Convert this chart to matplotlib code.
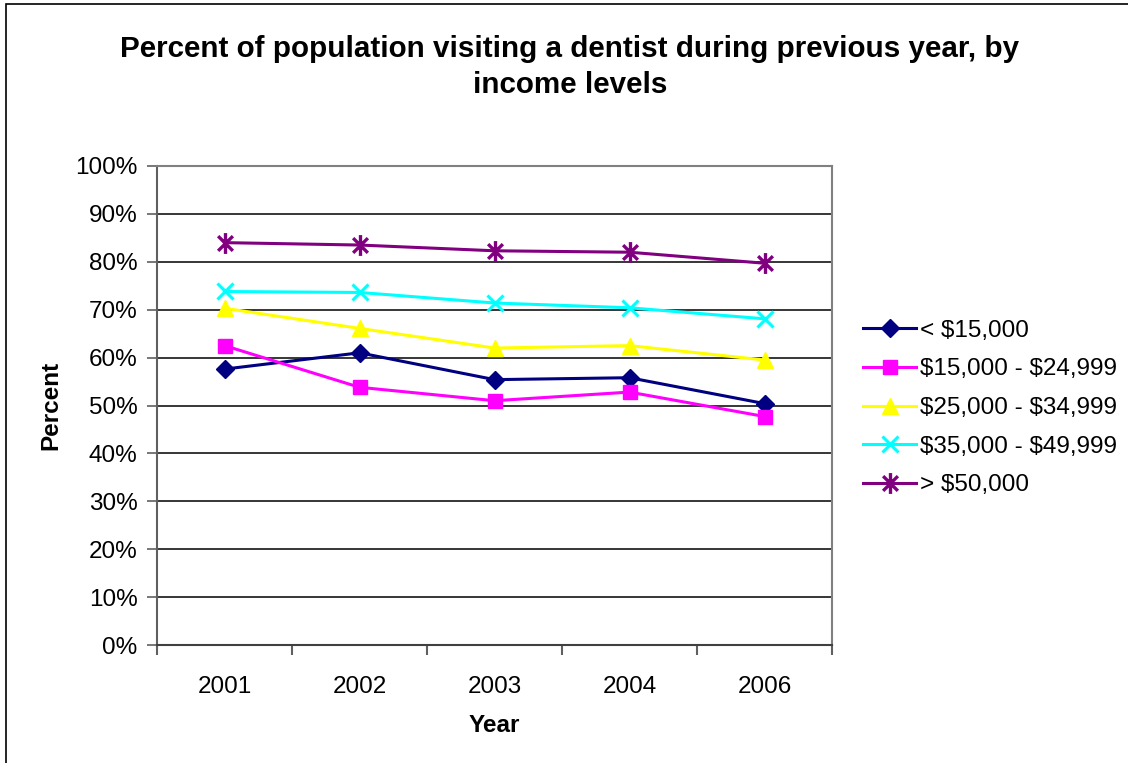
import numpy as np
import matplotlib.pyplot as plt
from matplotlib.path import Path
from matplotlib.patches import Rectangle
from matplotlib.ticker import FixedLocator, NullFormatter

plt.rcParams['font.family'] = ['Liberation Sans', 'DejaVu Sans']
plt.rcParams['text.parse_math'] = False

years = ["2001", "2002", "2003", "2004", "2006"]
labels = ["< $15,000", "$15,000 - $24,999", "$25,000 - $34,999",
          "$35,000 - $49,999", "> $50,000"]
under_15k = [57.6, 61.0, 55.4, 55.8, 50.4]
from_15k = [62.5, 53.8, 51.0, 52.8, 47.7]
from_25k = [70.3, 66.1, 62.0, 62.5, 59.5]
from_35k = [73.8, 73.6, 71.4, 70.4, 68.1]
over_50k = [84.0, 83.5, 82.3, 82.0, 79.7]

# Excel-style asterisk: an x with a vertical bar through it
d = 0.7071
asterisk = Path([(-d, -d), (d, d), (-d, d), (d, -d), (0, -1), (0, 1)],
                [Path.MOVETO, Path.LINETO, Path.MOVETO, Path.LINETO,
                 Path.MOVETO, Path.LINETO])

series = [
    (under_15k, "#000080", "D", 9, 1),
    (from_15k, "#FF00FF", "s", 10, 1),
    (from_25k, "#FFFF00", "^", 11, 1),
    (from_35k, "#00FFFF", "x", 11, 2.2),
    (over_50k, "#800080", asterisk, 15, 2.4),
]

FS = 17.5

fig = plt.figure(figsize=(11.28, 7.63), dpi=100)
fig.patches.append(Rectangle((6 / 1128, -0.01), 1.2, (763 - 4) / 763 + 0.01,
                             transform=fig.transFigure, fill=False,
                             edgecolor="black", linewidth=1.2))

ax = fig.add_axes([157 / 1128, (763 - 645) / 763, 675 / 1128, 479 / 763])
x = np.arange(len(years))
for (vals, color, marker, ms, mew), lab in zip(series, labels):
    ax.plot(x, vals, color=color, linewidth=2.2, marker=marker, markersize=ms,
            markeredgewidth=mew, markerfacecolor=color, markeredgecolor=color,
            label=lab, clip_on=False, zorder=3)

ax.set_xlim(-0.5, len(years) - 0.5)
ax.set_ylim(0, 100)
ax.set_yticks(np.arange(0, 101, 10))
ax.set_yticklabels([f"{v}%" for v in range(0, 101, 10)], fontsize=FS)
ax.yaxis.grid(True, color="black", linewidth=1.1)
ax.set_axisbelow(True)

# category labels centred, tick marks between categories
ax.xaxis.set_major_locator(FixedLocator(np.arange(-0.5, len(years), 1.0)))
ax.xaxis.set_major_formatter(NullFormatter())
ax.xaxis.set_minor_locator(FixedLocator(x))
ax.set_xticklabels(years, minor=True, fontsize=FS)
ax.tick_params(axis="x", which="minor", length=0, pad=22)
ax.tick_params(axis="x", which="major", length=7, width=1.5, color="#606060",
               direction="out")
ax.tick_params(axis="y", length=7, width=1.2, color="#606060", direction="out",
               pad=7)
for s in ax.spines.values():
    s.set_color("#808080")
    s.set_linewidth(1.5)
ax.spines["left"].set_color("#606060")
ax.spines["bottom"].set_color("#404040")

ax.set_xlabel("Year", fontsize=FS, fontweight="bold", labelpad=12)
ax.set_ylabel("Percent", fontsize=FS, fontweight="bold", labelpad=9)

fig.text(0.5 + 6 / 1128, 1 - 67 / 763,
         "Percent of population visiting a dentist during previous year, by\nincome levels",
         ha="center", va="center", fontsize=21.3, fontweight="bold",
         linespacing=1.38)

fig.legend(loc="center left", bbox_to_anchor=(863 / 1128, 1 - 408 / 763),
           frameon=False, fontsize=FS, handlelength=2.2, handletextpad=0.15,
           labelspacing=0.68, borderaxespad=0, borderpad=0)

fig.savefig("out.png", dpi=100)
